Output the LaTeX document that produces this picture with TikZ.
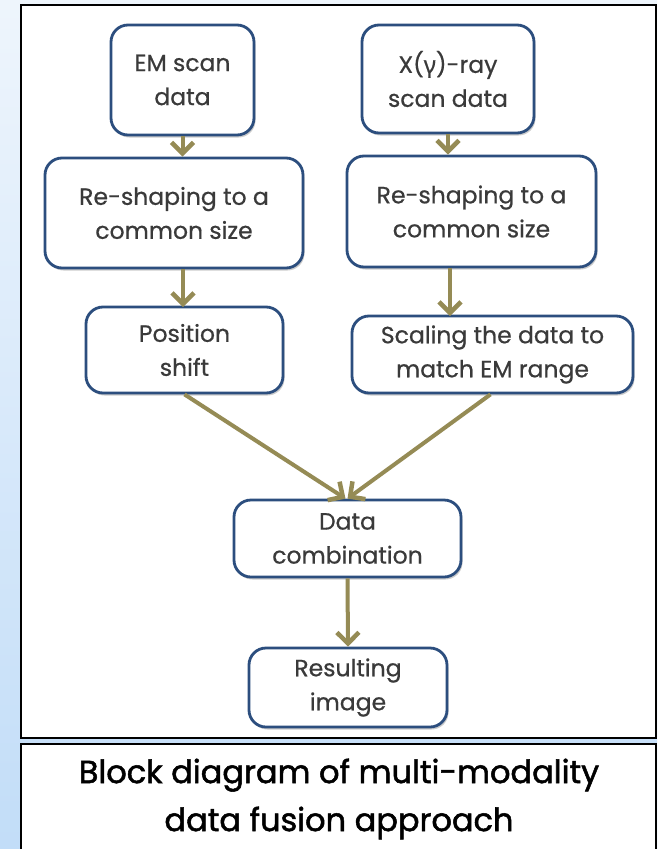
\documentclass[tikz,border=0pt]{standalone}
\usepackage{fontspec}
\setmainfont{Poppins}
\newfontfamily\boxfont[FakeBold=0.6]{Poppins}
\newfontfamily\capfont[FakeBold=1.6]{Poppins}
\newfontfamily\grk[FakeBold=0.6]{Noto Sans}
\usetikzlibrary{arrows.meta,shadows}
\definecolor{olivearrow}{HTML}{958B55}
\definecolor{boxborder}{HTML}{2C4E7E}
\definecolor{boxtext}{HTML}{3A3A3A}
\definecolor{bgtop}{HTML}{EEF5FC}
\definecolor{bgbot}{HTML}{C2DDF8}
\tikzset{
  blockbox/.style={draw=boxborder, line width=2.8pt, rounded corners=17pt, fill=white,
    align=center, text=boxtext, font=\boxfont\fontsize{23.5}{34}\selectfont, inner sep=0pt,
    drop shadow={shadow xshift=1.5pt, shadow yshift=-2.5pt, opacity=0.4}},
  flowarrow/.style={draw=olivearrow, line width=4pt,
    -{Straight Barb[length=11pt,width=22pt,line width=4.5pt]}},
  frame/.style={draw=black, line width=2pt, fill=white}
}
\begin{document}
\begin{tikzpicture}[x=1pt,y=-1pt]
\useasboundingbox (0,0) rectangle (657,849);
\shade[top color=bgtop, bottom color=bgbot] (0,0) rectangle (657,849);
\node[frame, minimum width=635pt, minimum height=733pt, inner sep=0pt] (topframe) at (338.5,371.5) {};
\node[frame, minimum width=635pt, minimum height=110pt, inner sep=0pt, anchor=north] (capframe) at (338.5,743) {};
\node[align=center, font=\capfont\fontsize{32}{48}\selectfont, text=black] (caption) at (339,799)
  {Block diagram of multi-modality\\data fusion approach};

\node[blockbox, minimum width=143pt, minimum height=110pt] (em) at (182.5,80) {EM scan\\data};
\node[blockbox, minimum width=172pt, minimum height=108pt] (xr) at (448,79) {X({\grk γ})-ray\\scan data};
\node[blockbox, minimum width=258pt, minimum height=110pt] (rs1) at (174,213) {Re-shaping to a\\common size};
\node[blockbox, minimum width=249pt, minimum height=111pt] (rs2) at (471.5,211.5) {Re-shaping to a\\common size};
\node[blockbox, minimum width=197pt, minimum height=86pt] (pos) at (184.5,350) {Position\\shift};
\node[blockbox, minimum width=281pt, minimum height=77pt] (sc) at (492.5,354.5) {Scaling the data to\\match EM range};
\node[blockbox, minimum width=227pt, minimum height=77pt] (dc) at (347.5,538.5) {Data\\combination};
\node[blockbox, minimum width=198pt, minimum height=79pt] (ri) at (348,687.5) {Resulting\\image};

\coordinate (ptop) at (183,307);
\coordinate (rtop) at (450,316);
\draw[flowarrow] (em.south) -- (em.south |- rs1.north);
\draw[flowarrow] (ptop |- rs1.south) -- (ptop);
\draw[flowarrow] (xr.south) -- (xr.south |- rs2.north);
\draw[flowarrow] (rtop |- rs2.south) -- (rtop);
\draw[flowarrow] (pos.south) -- ([xshift=-2pt]dc.north);
\draw[flowarrow] ([xshift=-2pt]sc.south) -- (dc.north);
\draw[flowarrow] (dc.south) -- (ri.north);
\end{tikzpicture}
\end{document}
